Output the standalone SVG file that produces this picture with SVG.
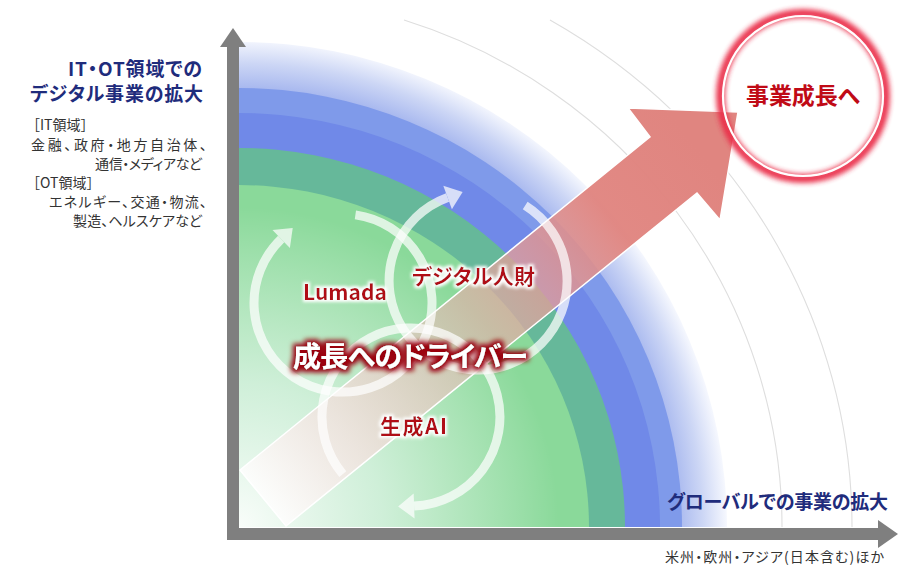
<svg xmlns="http://www.w3.org/2000/svg" width="910" height="568" viewBox="0 0 910 568">
<style>
.t{font-family:'Noto Sans CJK JP','Noto Sans',sans-serif;font-feature-settings:"palt" 1;}
.nopalt{font-feature-settings:normal;}
.title{font-size:19px;font-weight:700;fill:#1f2c7c;}
.small{font-size:14px;fill:#333333;}
.lab{font-size:21px;font-weight:700;fill:#b00a14;}
.drv{font-size:28px;font-weight:700;fill:#ffffff;}
.ring{fill:none;stroke:#ffffff;stroke-width:9;}
.garc{fill:none;stroke:#dedede;stroke-width:1.1;}
.axis{fill:#7f7f7f;}
</style>
<defs>
<radialGradient id="paleG" gradientUnits="userSpaceOnUse" cx="239" cy="527" r="488">
<stop offset="0.9" stop-color="#a9b9ef"/>
<stop offset="0.95" stop-color="#ccd6f5"/>
<stop offset="1" stop-color="#f6f8fe"/>
</radialGradient>
<radialGradient id="fadeG" gradientUnits="userSpaceOnUse" cx="239" cy="527" r="320">
<stop offset="0" stop-color="#ffffff" stop-opacity="0.95"/>
<stop offset="0.45" stop-color="#f4fbfa" stop-opacity="0.65"/>
<stop offset="1" stop-color="#ffffff" stop-opacity="0"/>
</radialGradient>
<linearGradient id="arrowG" gradientUnits="userSpaceOnUse" x1="260" y1="500" x2="700" y2="150">
<stop offset="0" stop-color="#ffffff" stop-opacity="0.85"/>
<stop offset="0.45" stop-color="#e8b8b4" stop-opacity="0.6"/>
<stop offset="0.8" stop-color="#e0837e" stop-opacity="0.95"/>
<stop offset="1" stop-color="#e08580" stop-opacity="1"/>
</linearGradient>
<marker id="ah" viewBox="-2 -15 20 30" markerWidth="20" markerHeight="30" refX="0" refY="0" orient="auto" markerUnits="userSpaceOnUse">
<path d="M0,-12.5 L16,0 L0,12.5 Z" fill="#ffffff"/>
</marker>
<filter id="wglow" x="-20%" y="-50%" width="140%" height="200%">
<feMorphology in="SourceAlpha" operator="dilate" radius="2" result="d"/>
<feGaussianBlur in="d" stdDeviation="1.5" result="b"/>
<feFlood flood-color="#ffffff"/>
<feComposite in2="b" operator="in" result="g"/>
<feMerge><feMergeNode in="g"/><feMergeNode in="SourceGraphic"/></feMerge>
</filter>
<filter id="rglow" x="-20%" y="-50%" width="140%" height="200%">
<feMorphology in="SourceAlpha" operator="dilate" radius="3.2" result="d"/>
<feGaussianBlur in="d" stdDeviation="2.4" result="b"/>
<feFlood flood-color="#9a0010"/>
<feComposite in2="b" operator="in" result="g"/>
<feMerge><feMergeNode in="g"/><feMergeNode in="SourceGraphic"/></feMerge>
</filter>
<filter id="blur3" x="-30%" y="-30%" width="160%" height="160%">
<feGaussianBlur stdDeviation="2.6"/>
</filter>
</defs>

<g id="bands">
<path d="M239,527 V42 A488,485 0 0 1 727,527 Z" fill="url(#paleG)"/>
<path d="M239,527 V88 A443,439 0 0 1 682,527 Z" fill="#7f9aea"/>
<path d="M239,527 V113 A421,414 0 0 1 660,527 Z" fill="#7089e8"/>
<path d="M239,527 V148 A386,379 0 0 1 625,527 Z" fill="#66b89a"/>
<path d="M239,527 V185 A350,342 0 0 1 589,527 Z" fill="#8ad99a"/>
<rect x="239" y="200" width="360" height="327" fill="url(#fadeG)"/>
</g>

<g id="guide-arcs">
<path class="garc" d="M404,20 A543,532 0 0 1 782,527"/>
<path class="garc" d="M550,20 A613,588 0 0 1 852,527"/>
</g>

<g id="target-base">
<circle cx="803" cy="96" r="80" fill="#ffffff"/>
</g>

<g id="connectors">
<polygon id="growth-arrow" points="240,470 650,137 628,108 738,112 720,220 697,193 286,526" fill="url(#arrowG)" stroke="#ffffff" stroke-width="1.5" stroke-linejoin="miter"/>
<g opacity="0.72"><path class="ring" d="M355.4,214.9 A89,89 0 1 1 281.2,239.0" marker-end="url(#ah)"/></g>
<g opacity="0.72"><path class="ring" d="M525.2,205.5 A89,89 0 1 1 447.6,197.4" marker-end="url(#ah)"/></g>
<g opacity="0.72"><path class="ring" d="M342.8,474.2 A89,89 0 1 1 414.1,505.9" marker-end="url(#ah)"/></g>
</g>

<g id="target">
<circle cx="803" cy="96" r="82.5" fill="none" stroke="#ea2d4a" stroke-width="9" filter="url(#blur3)" opacity="0.95"/>
<circle cx="803" cy="96" r="80" fill="none" stroke="#ffffff" stroke-width="2.2"/>
<text class="t" x="803" y="104" text-anchor="middle" font-size="23" font-weight="700" fill="#c00a16" textLength="114" lengthAdjust="spacing">事業成長へ</text>
</g>

<g id="node-lumada"><text class="t lab" x="303" y="299.5" textLength="84" lengthAdjust="spacing" filter="url(#wglow)">Lumada</text></g>
<g id="node-digital"><text class="t lab" x="412" y="284" textLength="123" lengthAdjust="spacing" filter="url(#wglow)">デジタル人財</text></g>
<g id="node-genai"><text class="t lab" x="380" y="434" textLength="67" lengthAdjust="spacing" filter="url(#wglow)">生成AI</text></g>
<g id="node-driver"><text class="t drv" x="293" y="367" textLength="235" lengthAdjust="spacing" filter="url(#rglow)">成長へのドライバー</text></g>

<g id="axes">
<rect class="axis" x="227" y="45" width="12" height="495"/>
<polygon class="axis" points="233,28 246,47 220,47"/>
<rect class="axis" x="227" y="528" width="653" height="12"/>
<polygon class="axis" points="898,534 878,520 878,548"/>
</g>

<g id="label-it-ot">
<text class="t title" x="202" y="76" text-anchor="end" textLength="134" lengthAdjust="spacing">IT・OT領域での</text>
<text class="t title" x="203" y="101" text-anchor="end" textLength="173" lengthAdjust="spacing">デジタル事業の拡大</text>
<text class="t small nopalt" x="26" y="130">［IT領域］</text>
<text class="t small" x="31" y="150" textLength="176" lengthAdjust="spacing">金融、政府・地方自治体、</text>
<text class="t small" x="95" y="169" textLength="107" lengthAdjust="spacing">通信・メディアなど</text>
<text class="t small nopalt" x="26" y="188">［OT領域］</text>
<text class="t small" x="49" y="207" textLength="158" lengthAdjust="spacing">エネルギー、交通・物流、</text>
<text class="t small" x="73" y="226" textLength="129" lengthAdjust="spacing">製造、ヘルスケアなど</text>
</g>

<g id="label-global">
<text class="t title" x="667" y="509" textLength="221" lengthAdjust="spacing">グローバルでの事業の拡大</text>
<text class="t small" x="665" y="562" textLength="219" lengthAdjust="spacing">米州・欧州・アジア(日本含む)ほか</text>
</g>
</svg>
